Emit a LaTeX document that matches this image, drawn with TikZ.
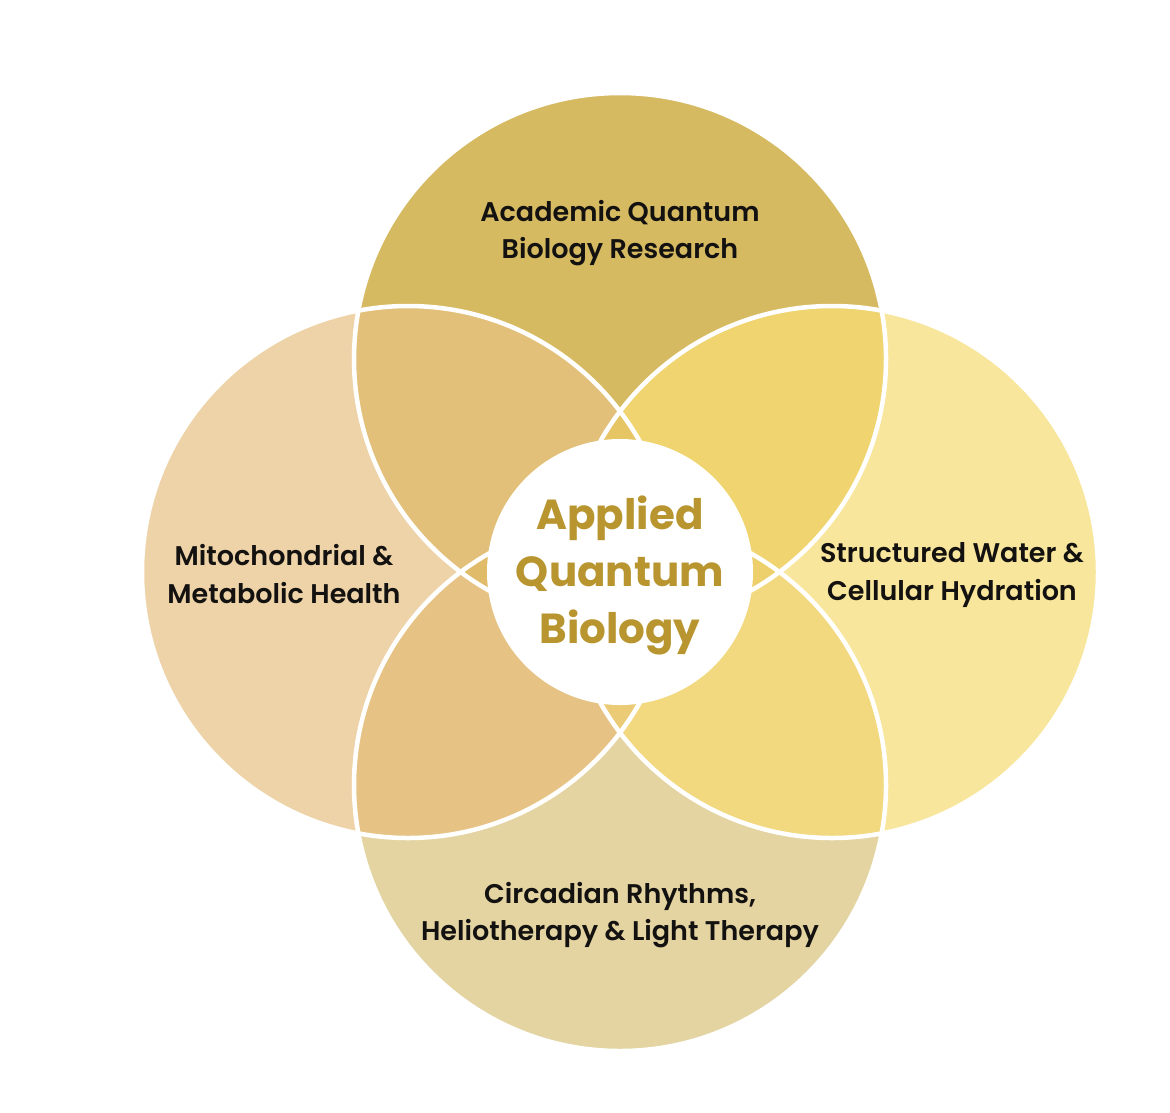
\documentclass[tikz,border=0pt]{standalone}
\usepackage{fontspec}
\newfontfamily\popfont{Poppins}
\IfFontExistsTF{Poppins SemiBold}{\newfontfamily\labfont{Poppins SemiBold}}{\newcommand\labfont{\popfont\bfseries}}
\definecolor{cTop}{HTML}{D6BA62}
\definecolor{cLeft}{HTML}{EDD3A7}
\definecolor{cRight}{HTML}{F8E69C}
\definecolor{cBot}{HTML}{E3D4A2}
\definecolor{cTL}{HTML}{E3C07A}
\definecolor{cTR}{HTML}{EFD46F}
\definecolor{cBL}{HTML}{E6C384}
\definecolor{cBR}{HTML}{F2D87E}
\definecolor{cTLR}{HTML}{E6C565}
\definecolor{cTLB}{HTML}{E0BB6A}
\definecolor{cTRB}{HTML}{EDD06C}
\definecolor{cBLR}{HTML}{ECCB76}
\definecolor{cTxt}{HTML}{141210}
\definecolor{cGold}{HTML}{B8952F}
\begin{document}
\begin{tikzpicture}[x=1pt,y=-1pt,
  petal/.style={circle,inner sep=0pt,minimum size=532pt},
  rim/.style={draw=white,line width=4.5pt},
  lab/.style={align=center,text=cTxt,font=\labfont\fontsize{27}{37.5}\selectfont},
  hub/.style={circle,fill=white,inner sep=0pt,minimum size=266pt,align=center,text=cGold,font=\popfont\bfseries\fontsize{42}{57}\selectfont}]
\useasboundingbox (0,0) rectangle (1170,1112);
\fill[white] (0,0) rectangle (1170,1112);
% petals
\node[petal,fill=cTop] (T) at (620,359) {};
\node[petal,fill=cLeft] (L) at (408,572) {};
\node[petal,fill=cRight] (R) at (832,572) {};
\node[petal,fill=cBot] (B) at (620,785) {};
% pair overlaps
\begin{scope}\clip (T.center) circle[radius=266pt]; \fill[cTL] (L.center) circle[radius=266pt]; \end{scope}
\begin{scope}\clip (T.center) circle[radius=266pt]; \fill[cTR] (R.center) circle[radius=266pt]; \end{scope}
\begin{scope}\clip (B.center) circle[radius=266pt]; \fill[cBL] (L.center) circle[radius=266pt]; \end{scope}
\begin{scope}\clip (B.center) circle[radius=266pt]; \fill[cBR] (R.center) circle[radius=266pt]; \end{scope}
% triple overlaps
\begin{scope}\clip (T.center) circle[radius=266pt]; \clip (L.center) circle[radius=266pt]; \fill[cTLR] (R.center) circle[radius=266pt]; \end{scope}
\begin{scope}\clip (T.center) circle[radius=266pt]; \clip (L.center) circle[radius=266pt]; \fill[cTLB] (B.center) circle[radius=266pt]; \end{scope}
\begin{scope}\clip (T.center) circle[radius=266pt]; \clip (R.center) circle[radius=266pt]; \fill[cTRB] (B.center) circle[radius=266pt]; \end{scope}
\begin{scope}\clip (B.center) circle[radius=266pt]; \clip (L.center) circle[radius=266pt]; \fill[cBLR] (R.center) circle[radius=266pt]; \end{scope}
% white rims
\foreach \p in {T,L,R,B} \draw[rim] (\p.center) circle[radius=266pt];
% hub
\node[hub] (C) at (620,572) {};
\node[align=center,text=cGold,font=\popfont\bfseries\fontsize{42}{57}\selectfont] (Ct) at (620,575) {Applied\\Quantum\\Biology};
% labels
\node[lab] (tT) at (620,233) {Academic Quantum\\Biology Research};
\node[lab] (tL) at (284,574) {Mitochondrial \&\\Metabolic Health};
\node[lab] (tR) at (952,575) {Structured Water \&\\Cellular Hydration};
\node[lab] (tB) at (620,915) {Circadian Rhythms,\\Heliotherapy \& Light Therapy};
\end{tikzpicture}
\end{document}
